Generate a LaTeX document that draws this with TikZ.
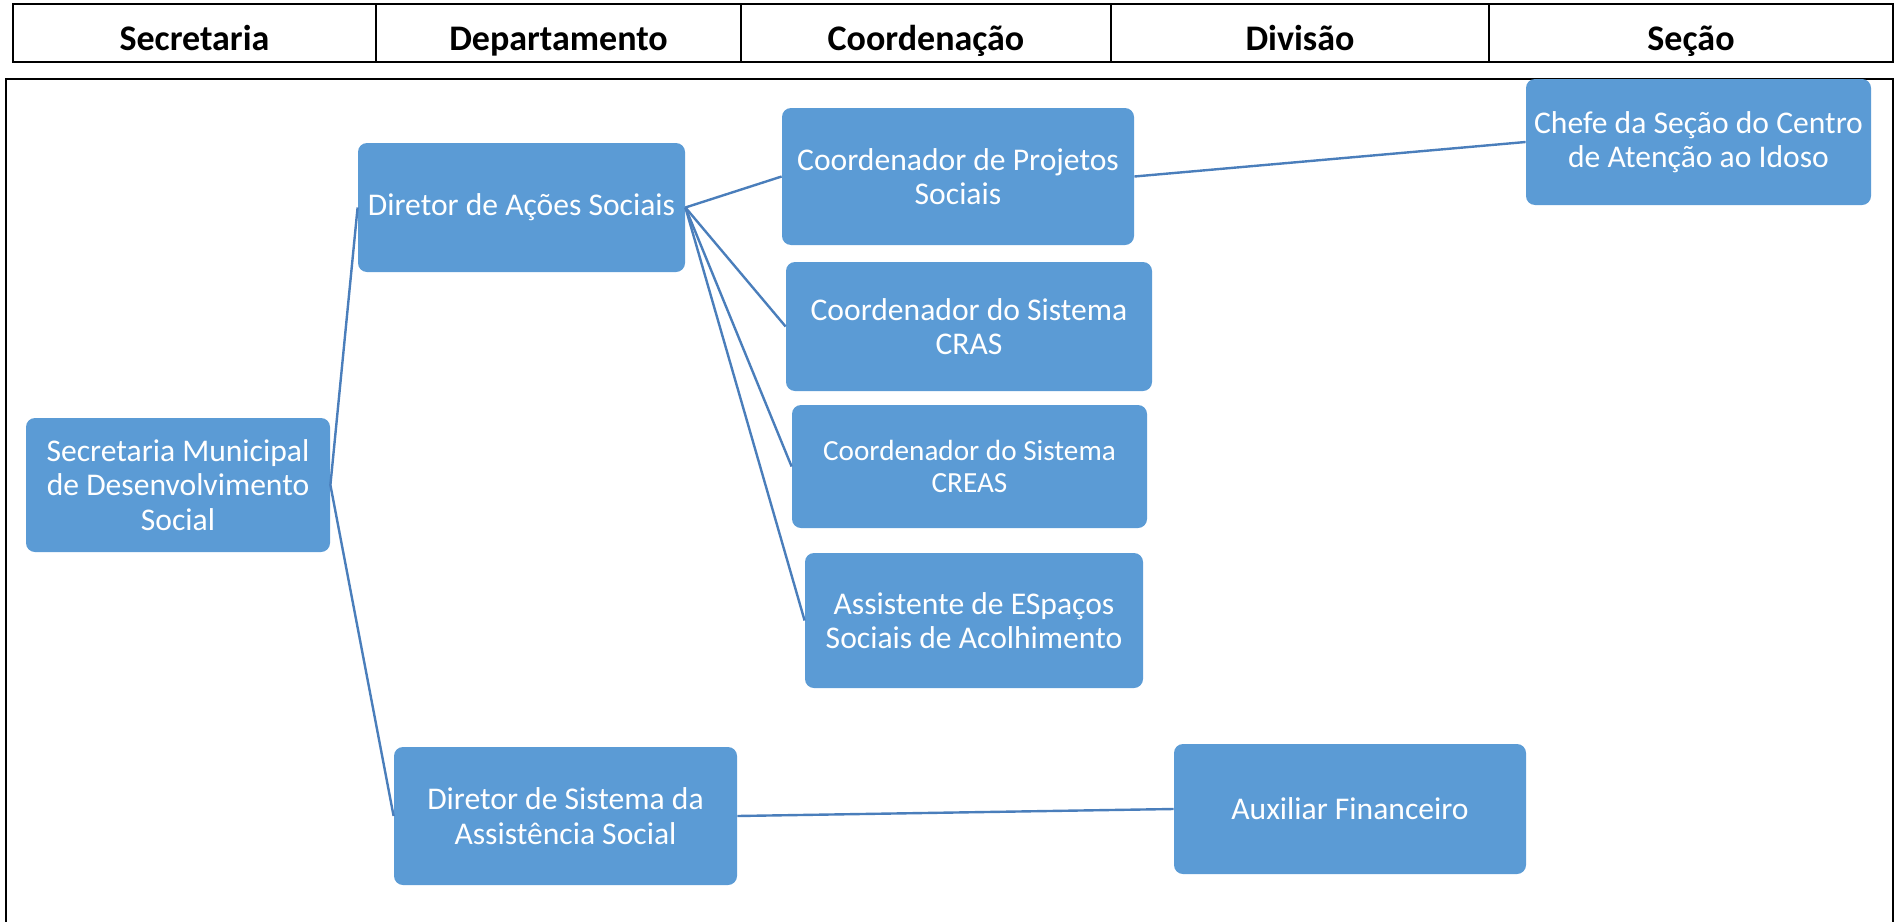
\documentclass[tikz,border=0pt]{standalone}
\usepackage{fontspec}
\setmainfont{Carlito}
\definecolor{caixaazul}{RGB}{91,155,213}
\definecolor{linhaazul}{RGB}{74,126,187}
\tikzset{
  caixa/.style={fill=caixaazul, rounded corners=4.5pt, text=white, align=center, inner sep=0pt,
    font=\fontsize{15.8}{17.2}\selectfont},
  ligacao/.style={draw=linhaazul, line width=1.2pt},
  titulo/.style={anchor=base, font=\fontsize{18}{21}\selectfont\bfseries},
  borda/.style={line width=1pt}
}
\begin{document}
\begin{tikzpicture}[x=0.5pt,y=-0.5pt]
\useasboundingbox (0,0) rectangle (1895,921);
% cabecalho
\draw[borda] (13,4) rectangle (1893,62);
\foreach \x in {376,741,1111,1489} \draw[borda] (\x,4) -- (\x,62);
\node[titulo] (tsec) at (194.5,50) {Secretaria};
\node[titulo] (tdep) at (558.5,50) {Departamento};
\node[titulo] (tcoord) at (926,50) {Coordenação};
\node[titulo] (tdiv) at (1300,50) {Divisão};
\node[titulo] (tsecao) at (1691,50) {Seção};
% moldura
\draw[borda] (6,930) -- (6,79) -- (1893,79) -- (1893,930);
% caixas
\node[caixa, minimum width=152pt, minimum height=67pt] (sec) at (178,485) {Secretaria Municipal\\de Desenvolvimento\\Social};
\node[caixa, minimum width=163.5pt, minimum height=64.5pt] (dacao) at (521.5,207.5) {Diretor de Ações Sociais};
\node[caixa, minimum width=171.5pt, minimum height=69pt] (dsist) at (565.5,816) {Diretor de Sistema da\\Assistência Social};
\node[caixa, minimum width=176pt, minimum height=68.5pt] (proj) at (958,176.5) {Coordenador de Projetos\\Sociais};
\node[caixa, minimum width=183pt, minimum height=64.5pt] (cras) at (969,326.5) {Coordenador do Sistema\\CRAS};
\node[caixa, minimum width=177.5pt, minimum height=61.5pt, font=\fontsize{14.6}{15.8}\selectfont] (creas) at (969.5,466.5) {Coordenador do Sistema\\CREAS};
\node[caixa, minimum width=169pt, minimum height=67.5pt] (acolh) at (974,620.5) {Assistente de ESpaços\\Sociais de Acolhimento};
\node[caixa, minimum width=172.5pt, minimum height=63pt] (chefe) at (1698.5,142) {Chefe da Seção do Centro\\de Atenção ao Idoso};
\node[caixa, minimum width=176pt, minimum height=65pt] (aux) at (1350,809) {Auxiliar Financeiro};
% ligacoes
\draw[ligacao] (sec.east) -- (dacao.west);
\draw[ligacao] (sec.east) -- (dsist.west);
\draw[ligacao] (dacao.east) -- (proj.west);
\draw[ligacao] (dacao.east) -- (cras.west);
\draw[ligacao] (dacao.east) -- (creas.west);
\draw[ligacao] (dacao.east) -- (acolh.west);
\draw[ligacao] (proj.east) -- (chefe.west);
\draw[ligacao] (dsist.east) -- (aux.west);
\end{tikzpicture}
\end{document}
